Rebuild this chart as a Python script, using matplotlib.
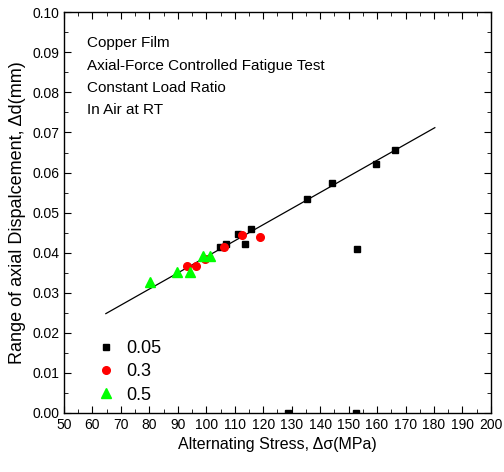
import matplotlib
matplotlib.use('Agg')
import matplotlib.pyplot as plt
from matplotlib.ticker import MultipleLocator

plt.rcParams['font.family'] = ['Liberation Sans', 'DejaVu Sans']

# R = 0.05
x_005 = [104.7, 107.0, 111.3, 113.6, 115.7, 135.5, 144.3, 159.5, 166.3, 153.0, 128.8, 152.5]
y_005 = [0.0414, 0.0422, 0.0446, 0.0421, 0.0459, 0.0534, 0.0573, 0.0622, 0.0656, 0.0409, 0.0, 0.0]
# R = 0.3
x_03 = [93.2, 96.5, 99.6, 106.1, 112.6, 119.0]
y_03 = [0.0368, 0.0368, 0.0384, 0.0414, 0.0444, 0.0438]
# R = 0.5
x_05 = [80.3, 89.7, 94.3, 98.8, 101.4]
y_05 = [0.0328, 0.0352, 0.0352, 0.0393, 0.0391]
# reta ajustada
x_fit = [64.7, 180.3]
y_fit = [0.0248, 0.0712]

fig = plt.figure(figsize=(5.04, 4.72), dpi=100)
ax = fig.add_axes([0.127, 0.125, 0.847, 0.849])

ax.plot(x_fit, y_fit, color='black', lw=0.9)
ax.plot(x_005, y_005, 's', color='black', ms=5, label='0.05')
ax.plot(x_03, y_03, 'o', color='#ff0000', ms=5.5, label='0.3')
ax.plot(x_05, y_05, '^', color='#00ff00', ms=6.5, label='0.5')

ax.set_xlim(50, 200)
ax.set_ylim(0, 0.10)
ax.xaxis.set_major_locator(MultipleLocator(10))
ax.xaxis.set_minor_locator(MultipleLocator(5))
ax.yaxis.set_major_locator(MultipleLocator(0.01))
ax.yaxis.set_minor_locator(MultipleLocator(0.005))
ax.yaxis.set_major_formatter(plt.FormatStrFormatter('%.2f'))
ax.tick_params(which='both', direction='in', top=True, right=True, labelsize=10)
ax.tick_params(which='major', length=5)
ax.tick_params(which='minor', length=3)
for s in ax.spines.values():
    s.set_linewidth(1.0)

ax.set_xlabel('Alternating Stress, Δσ(MPa)', fontsize=11.5)
ax.set_ylabel('Range of axial Dispalcement, Δd(mm)', fontsize=13)

texto = ['Copper Film', 'Axial-Force Controlled Fatigue Test',
         'Constant Load Ratio', 'In Air at RT']
for i, t in enumerate(texto):
    ax.text(0.055, 0.923 - i * 0.056, t, transform=ax.transAxes, fontsize=11, va='center')

ax.legend(loc='lower left', bbox_to_anchor=(0.04, -0.017), frameon=False, fontsize=13,
          handletextpad=0.6, labelspacing=0.35, handlelength=1.0)

plt.savefig('out.png', dpi=100)
